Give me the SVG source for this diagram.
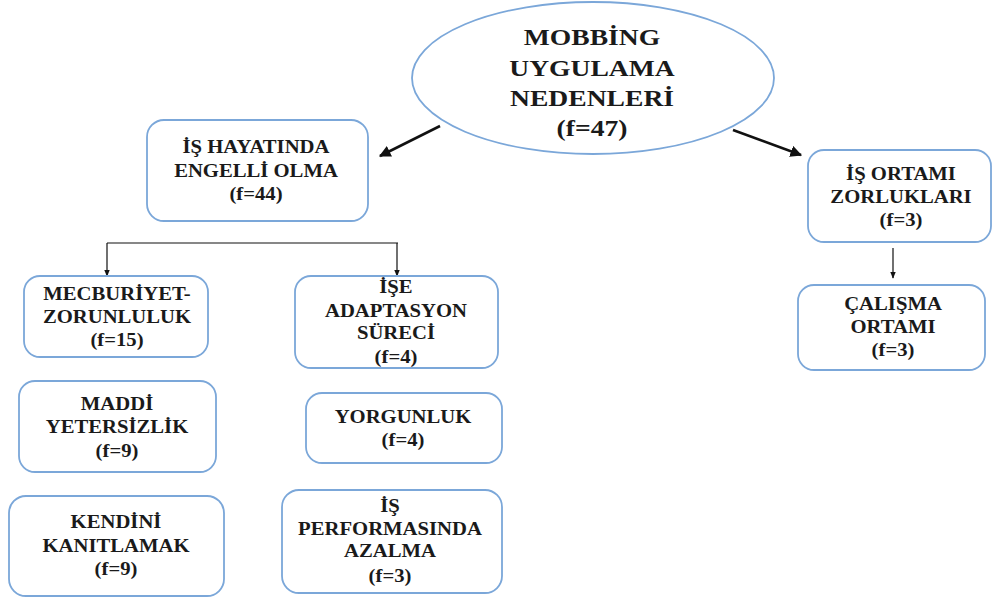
<svg xmlns="http://www.w3.org/2000/svg" width="993" height="601" viewBox="0 0 993 601">
<style>
.box{fill:#fff;stroke:#7ba7d9;stroke-width:1.8}
.t{font-family:"Liberation Serif","Times New Roman",serif;font-weight:bold;font-size:18px;text-anchor:middle;fill:#1a1a1a}
.big{font-size:24px}
.thick{stroke:#111;stroke-width:2.6;fill:none}
.thin{stroke:#111;stroke-width:1.2;fill:none}
</style>
<defs>
<marker id="ah" viewBox="0 0 10 10" refX="9" refY="5" markerWidth="4.5" markerHeight="4.5" orient="auto" markerUnits="strokeWidth"><path d="M0,0 L10,5 L0,10 z" fill="#111"/></marker>
<marker id="ahs" viewBox="0 0 10 10" refX="9" refY="5" markerWidth="6" markerHeight="6" orient="auto" markerUnits="strokeWidth"><path d="M0,1 L10,5 L0,9 z" fill="#111"/></marker>
</defs>
<rect width="993" height="601" fill="#fff"/>
<g id="connectors">
<line class="thick" x1="440" y1="126" x2="380" y2="156" marker-end="url(#ah)"/>
<line class="thick" x1="733" y1="130" x2="801" y2="155" marker-end="url(#ah)"/>
<line class="thin" x1="893" y1="248" x2="893" y2="278" marker-end="url(#ahs)"/>
<polyline class="thin" points="107,243 398,243"/>
<line class="thin" x1="107" y1="243" x2="107" y2="276" marker-end="url(#ahs)"/>
<line class="thin" x1="397" y1="243" x2="397" y2="276" marker-end="url(#ahs)"/>
</g>
<g id="root">
<ellipse class="box" cx="593" cy="78" rx="181" ry="76"/>
<g transform="translate(592 0) scale(1.15 1)"><text class="t big" x="0" y="45">MOBBİNG</text><text class="t big" x="0" y="76">UYGULAMA</text><text class="t big" x="0" y="106">NEDENLERİ</text><text class="t big" x="0" y="136">(f=47)</text></g>
</g>
<g id="engelli">
<rect class="box" x="147" y="120" width="221" height="101" rx="17"/>
<g transform="translate(256 0) scale(1.15 1)"><text class="t" x="0" y="153">İŞ HAYATINDA</text><text class="t" x="0" y="177">ENGELLİ OLMA</text><text class="t" x="0" y="200">(f=44)</text></g>
</g>
<g id="isortami">
<rect class="box" x="808" y="150" width="183" height="92" rx="16"/>
<g transform="translate(901 0) scale(1.15 1)"><text class="t" x="0" y="180">İŞ ORTAMI</text><text class="t" x="0" y="203">ZORLUKLARI</text><text class="t" x="0" y="226">(f=3)</text></g>
</g>
<g id="calisma">
<rect class="box" x="798" y="285" width="187" height="85" rx="16"/>
<g transform="translate(893 0) scale(1.15 1)"><text class="t" x="0" y="310">ÇALIŞMA</text><text class="t" x="0" y="333">ORTAMI</text><text class="t" x="0" y="356">(f=3)</text></g>
</g>
<g id="mecburiyet">
<rect class="box" x="24" y="276" width="184" height="81" rx="16"/>
<g transform="translate(117 0) scale(1.15 1)"><text class="t" x="0" y="300">MECBURİYET-</text><text class="t" x="0" y="323">ZORUNLULUK</text><text class="t" x="0" y="346">(f=15)</text></g>
</g>
<g id="adaptasyon">
<rect class="box" x="295" y="276" width="203" height="92" rx="16"/>
<g transform="translate(396 0) scale(1.15 1)"><text class="t" x="0" y="293">İŞE</text><text class="t" x="0" y="317">ADAPTASYON</text><text class="t" x="0" y="339">SÜRECİ</text><text class="t" x="0" y="363">(f=4)</text></g>
</g>
<g id="maddi">
<rect class="box" x="19" y="381" width="197" height="91" rx="16"/>
<g transform="translate(117 0) scale(1.15 1)"><text class="t" x="0" y="410">MADDİ</text><text class="t" x="0" y="433">YETERSİZLİK</text><text class="t" x="0" y="457">(f=9)</text></g>
</g>
<g id="yorgunluk">
<rect class="box" x="306" y="393" width="196" height="70" rx="16"/>
<g transform="translate(403 0) scale(1.15 1)"><text class="t" x="0" y="423">YORGUNLUK</text><text class="t" x="0" y="446">(f=4)</text></g>
</g>
<g id="kendini">
<rect class="box" x="9" y="496" width="215" height="100" rx="17"/>
<g transform="translate(116 0) scale(1.15 1)"><text class="t" x="0" y="528">KENDİNİ</text><text class="t" x="0" y="552">KANITLAMAK</text><text class="t" x="0" y="575">(f=9)</text></g>
</g>
<g id="performans">
<rect class="box" x="282" y="490" width="220" height="103" rx="17"/>
<g transform="translate(390 0) scale(1.15 1)"><text class="t" x="0" y="512">İŞ</text><text class="t" x="0" y="535">PERFORMASINDA</text><text class="t" x="0" y="557">AZALMA</text><text class="t" x="0" y="582">(f=3)</text></g>
</g>
</svg>
